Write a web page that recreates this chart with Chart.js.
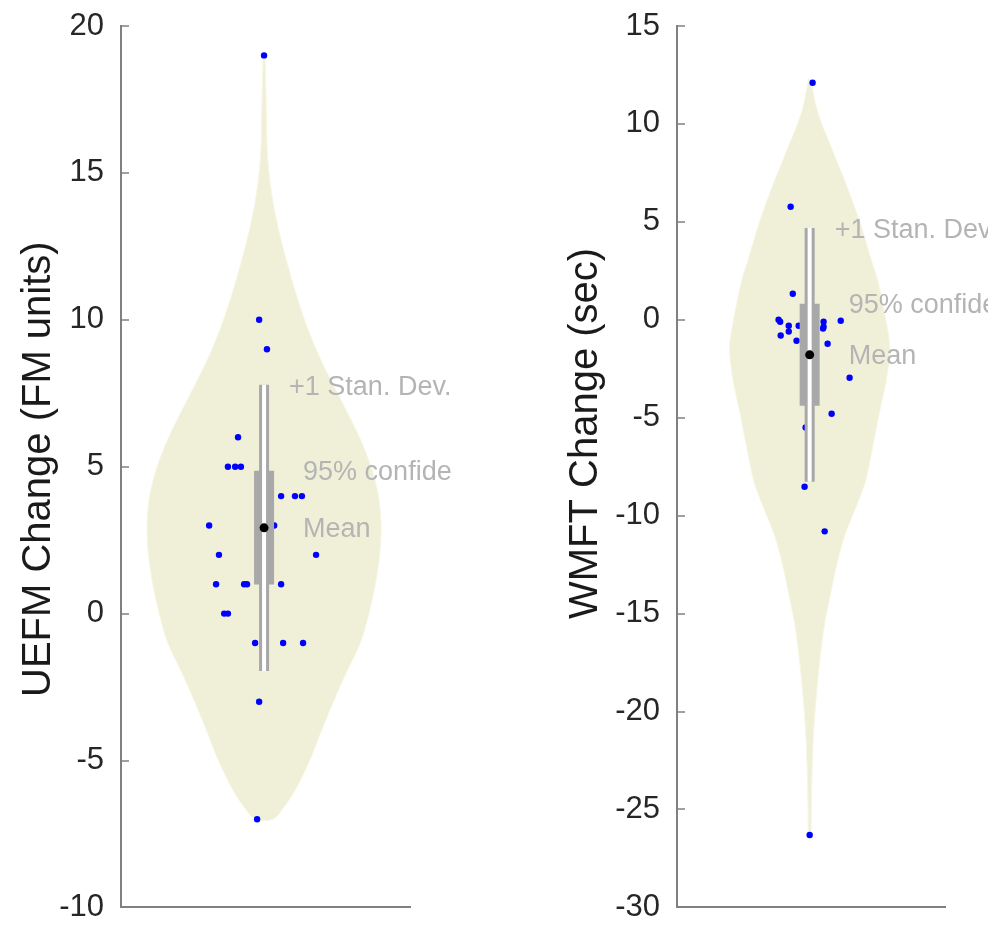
<!DOCTYPE html>
<html lang="en">
<head>
<meta charset="UTF-8">
<title>UEFM / WMFT change violins</title>
<script src="https://cdn.jsdelivr.net/npm/chart.js"></script>
<style>
  body { margin:0; background:#fff; }
  .wrap { display:flex; width:1000px; height:926px; }
  .panel { position:relative; width:500px; height:926px; }
</style>
</head>
<body>
<div class="wrap">
  <div class="panel"><canvas id="uefm"></canvas></div>
  <div class="panel"><canvas id="wmft"></canvas></div>
</div>
<script>
// --- UEFM (left panel) ---
const uefmValues = [19, 10, 9, 6, 5, 5, 5, 4, 4, 4, 3, 3, 2, 2, 1, 1, 1, 1, 0, 0, -1, -1, -1, -3, -7];
const uefmJitter = [0, -0.017, 0.010, -0.090, -0.125, -0.100, -0.080, 0.059, 0.107, 0.131,
                    -0.190, 0.035, -0.156, 0.180, -0.166, -0.069, -0.059, 0.059, -0.138, -0.125,
                    -0.031, 0.066, 0.135, -0.017, -0.024];
// mean, 95% CI, ±1 SD
const uefmStats = { mean: 2.92, ciLow: 0.99, ciHigh: 4.86, sdLow: -1.95, sdHigh: 7.79 };
// violin outline: value and half width (x units)
const uefmViolinY = [19, 17.5, 16, 15, 14, 13, 12, 11, 10, 9, 8, 7, 6, 5, 4, 3, 2, 1, 0, -1, -2, -3, -4, -5, -6, -6.6, -7];
const uefmViolinW = [0.003, 0.007, 0.010, 0.017, 0.031, 0.052, 0.078, 0.107, 0.140, 0.180, 0.228, 0.280, 0.330, 0.370,
                     0.396, 0.405, 0.400, 0.385, 0.363, 0.333, 0.285, 0.240, 0.198, 0.158, 0.108, 0.068, 0.030];

// --- WMFT (right panel) ---
const wmftValues = [12.1, 5.77, 1.33, 0, -0.1, -0.3, -0.3, -0.1, -0.35, -0.45, -0.05, -0.8, -0.6, -1.07, -1.22,
                    -2.96, -4.8, -5.5, -8.52, -10.8, -26.3];
const wmftJitter = [0.011, -0.071, -0.063, -0.116, -0.110, -0.078, -0.041, 0.052, 0.052, 0.050, 0.116, -0.108,
                    -0.078, -0.049, 0.067, 0.149, 0.082, -0.015, -0.019, 0.056, 0];
const wmftStats = { mean: -1.79, ciLow: -4.39, ciHigh: 0.82, sdLow: -8.27, sdHigh: 4.69 };
const wmftViolinY = [12.3, 11, 10, 9, 8, 7, 5, 3, 2, 0, -1.4, -3, -4.7, -6.5, -8.2, -9.5, -11, -12.5, -14, -15.5,
                     -17, -19, -21, -23, -25, -26.3];
const wmftViolinW = [0.004, 0.022, 0.045, 0.075, 0.104, 0.134, 0.187, 0.231, 0.254, 0.284, 0.299, 0.287, 0.261,
                     0.235, 0.209, 0.175, 0.131, 0.101, 0.078, 0.056, 0.041, 0.026, 0.015, 0.009, 0.006, 0.004];

const FONT = "'Liberation Sans', Arial, sans-serif";
const AXIS_GREY = '#808080';
const BAR_GREY = '#a8a8a8';

// MATLAB style tick marks pointing into the axes
const innerTicks = {
  id: 'innerTicks',
  afterDraw(chart) {
    const { ctx, chartArea, scales: { y } } = chart;
    ctx.save();
    ctx.strokeStyle = AXIS_GREY;
    ctx.lineWidth = 1.5;
    y.ticks.forEach(t => {
      const py = Math.round(y.getPixelForValue(t.value));
      ctx.beginPath();
      ctx.moveTo(chartArea.left, py);
      ctx.lineTo(chartArea.left + 8, py);
      ctx.stroke();
    });
    ctx.restore();
  }
};

// rotated y label + the grey notes next to the mean/CI/SD bar
const panelText = {
  id: 'panelText',
  afterDraw(chart, args, o) {
    const { ctx, scales: { x, y } } = chart;
    ctx.save();
    ctx.fillStyle = '#1a1a1a';
    ctx.font = '40px ' + FONT;
    ctx.textAlign = 'left';
    ctx.textBaseline = 'alphabetic';
    ctx.translate(o.titleX, o.titleY);
    ctx.rotate(-Math.PI / 2);
    ctx.fillText(o.title, 0, 0);
    ctx.restore();

    const cx = x.getPixelForValue(1);
    ctx.save();
    ctx.beginPath();
    ctx.rect(0, 0, o.clipRight, chart.height);
    ctx.clip();
    ctx.fillStyle = '#b4b4b4';
    ctx.font = '27px ' + FONT;
    ctx.textAlign = 'left';
    ctx.textBaseline = 'middle';
    ctx.fillText('+1 Stan. Dev.', cx + 25, y.getPixelForValue(o.stats.sdHigh) + 3);
    ctx.fillText('95% confidence interval', cx + 39, y.getPixelForValue(o.stats.ciHigh) + 2);
    ctx.fillText('Mean', cx + 39, y.getPixelForValue(o.stats.mean) + 2);
    ctx.restore();
  }
};

function violinOutline(ys, ws) {
  const left = ys.map((v, i) => ({ x: 1 - ws[i], y: v }));
  const right = ys.map((v, i) => ({ x: 1 + ws[i], y: v })).reverse();
  return left.concat(right);
}

function makePanel(id, p) {
  const s = p.stats;
  const line = (a, b, col, w, order) => ({
    data: [{ x: 1, y: a }, { x: 1, y: b }], showLine: true, borderColor: col,
    borderWidth: w, pointRadius: 0, borderCapStyle: 'butt', order
  });
  return new Chart(document.getElementById(id), {
    type: 'scatter',
    data: {
      datasets: [
        { data: [{ x: 1, y: s.mean }], pointRadius: 4.5, backgroundColor: '#000', borderWidth: 0, order: 0 },
        line(s.sdLow, s.sdHigh, '#ffffff', 4, 1),
        line(s.ciLow, s.ciHigh, BAR_GREY, 20, 2),
        line(s.sdLow, s.sdHigh, BAR_GREY, 10, 3),
        { data: p.values.map((v, i) => ({ x: 1 + p.jitter[i], y: v })),
          pointRadius: 3.2, backgroundColor: '#0000ff', borderWidth: 0, order: 4 },
        { data: violinOutline(p.violinY, p.violinW), showLine: true, fill: 'shape',
          backgroundColor: '#f0f0d8', borderColor: '#f6f6e4', borderWidth: 1,
          pointRadius: 0, tension: 0.3, order: 5 }
      ]
    },
    options: {
      responsive: true,
      maintainAspectRatio: false,
      animation: false,
      layout: { padding: { left: 0, right: p.padRight, top: 26, bottom: 18 } },
      scales: {
        x: {
          type: 'linear', min: 0.505, max: 1.505,
          ticks: { display: false },
          grid: { drawOnChartArea: false, drawTicks: false },
          border: { color: AXIS_GREY, width: 2 },
          afterFit: sc => { sc.height = 0; }
        },
        y: {
          min: p.yMin, max: p.yMax,
          ticks: { stepSize: 5, padding: 0, color: '#262626', font: { family: FONT, size: 31 } },
          // invisible outer tick marks just push the labels away from the axis
          grid: { drawOnChartArea: false, drawTicks: true, tickLength: 17, tickColor: 'rgba(0,0,0,0)' },
          border: { color: AXIS_GREY, width: 2 },
          afterFit: sc => { sc.width = p.axisWidth; }
        }
      },
      plugins: {
        legend: { display: false },
        tooltip: { enabled: false },
        panelText: { title: p.title, titleX: p.titleX, titleY: p.titleY, stats: s, clipRight: p.clipRight }
      }
    },
    plugins: [innerTicks, panelText]
  });
}

makePanel('uefm', {
  values: uefmValues, jitter: uefmJitter, stats: uefmStats,
  violinY: uefmViolinY, violinW: uefmViolinW,
  yMin: -10, yMax: 20, axisWidth: 121, padRight: 90,
  title: 'UEFM Change (FM units)', titleX: 50, titleY: 697, clipRight: 452
});

makePanel('wmft', {
  values: wmftValues, jitter: wmftJitter, stats: wmftStats,
  violinY: wmftViolinY, violinW: wmftViolinW,
  yMin: -30, yMax: 15, axisWidth: 177, padRight: 55,
  title: 'WMFT Change (sec)', titleX: 97, titleY: 619, clipRight: 488
});
</script>
</body>
</html>
